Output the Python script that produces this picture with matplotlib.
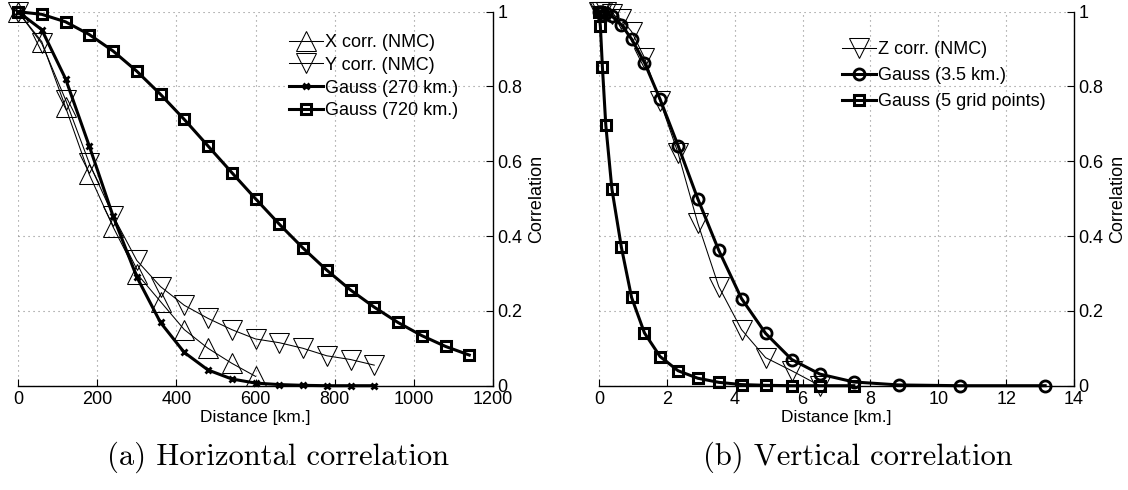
# -*- coding: utf-8 -*-
"""
Horizontal and vertical correlation of the NMC background errors,
compared with Gaussian correlation functions.
"""

import matplotlib
matplotlib.use('Agg')
import matplotlib.pyplot as plt

plt.rcParams['font.family'] = ['Liberation Sans', 'DejaVu Sans']

# Horizontal correlation (panel a)
dist_h = [0, 60, 120, 180, 240, 300, 360, 420, 480, 540, 600, 660, 720,
          780, 840, 900, 960, 1020, 1080, 1140]
x_corr = [1.0, 0.92, 0.745, 0.565, 0.425, 0.30, 0.225, 0.15, 0.10, 0.06,
          0.025]
y_corr = [1.0, 0.915, 0.765, 0.595, 0.455, 0.335, 0.265, 0.215, 0.18, 0.15,
          0.125, 0.115, 0.10, 0.08, 0.07, 0.055]
gauss_270 = [1.0, 0.952, 0.821, 0.641, 0.454, 0.291, 0.169, 0.089, 0.042,
             0.018, 0.007, 0.003, 0.001, 0.0, 0.0, 0.0]
gauss_720 = [1.0, 0.993, 0.973, 0.939, 0.895, 0.841, 0.779, 0.712, 0.641,
             0.570, 0.500, 0.432, 0.368, 0.309, 0.256, 0.210, 0.169, 0.134,
             0.105, 0.082]

# Vertical correlation (panel b), model levels in km
dist_v = [0, 0.04, 0.1, 0.2, 0.38, 0.66, 0.96, 1.34, 1.8, 2.33, 2.91, 3.53,
          4.2, 4.91, 5.68, 6.51, 7.51, 8.83, 10.64, 13.15]
z_corr = [1.0, 1.0, 1.0, 0.998, 0.993, 0.98, 0.947, 0.877, 0.76, 0.622,
          0.435, 0.265, 0.15, 0.075, 0.04, 0.0]
gauss_35 = [1.0, 1.0, 0.999, 0.997, 0.988, 0.965, 0.927, 0.864, 0.766,
            0.642, 0.50, 0.362, 0.233, 0.14, 0.07, 0.031, 0.01, 0.002, 0.0,
            0.0]
gauss_5gp = [1.0, 0.962, 0.853, 0.697, 0.526, 0.37, 0.236, 0.141, 0.078,
             0.04, 0.02, 0.009, 0.003, 0.001, 0.0, 0.0, 0.0]

yticks = [0, 0.2, 0.4, 0.6, 0.8, 1]
ytick_labels = ['0', '0.2', '0.4', '0.6', '0.8', '1']

fig = plt.figure(figsize=(11.28, 4.9), dpi=100)
W, H = 1128.0, 490.0
ax1 = fig.add_axes([18 / W, 1 - 385.7 / H, 475 / W, 374 / H])
ax2 = fig.add_axes([599 / W, 1 - 385.7 / H, 475 / W, 374 / H])


def style_axes(ax, xmax, xstep):
    ax.set_xlim(0, xmax)
    ax.set_ylim(0, 1)
    ax.set_xticks(list(range(0, xmax + 1, xstep)))
    ax.set_yticks(yticks)
    ax.set_yticklabels(ytick_labels)
    ax.spines['left'].set_visible(False)
    ax.spines['top'].set_visible(False)
    ax.spines['bottom'].set_linewidth(1.0)
    ax.spines['right'].set_linewidth(1.0)
    ax.yaxis.tick_right()
    ax.yaxis.set_label_position('right')
    ax.tick_params(direction='in', length=5, width=0.8, labelsize=13,
                   top=False, left=False, right=True)
    ax.tick_params(axis='x', pad=4)
    ax.tick_params(axis='y', pad=3)
    ax.grid(True, linestyle=(0, (1, 3.5)), color='#8a8a8a', linewidth=0.8)
    ax.set_axisbelow(True)
    ax.set_xlabel('Distance [km.]', fontsize=12.5, labelpad=1)
    ax.set_ylabel('Correlation', fontsize=13, labelpad=4)


# (a) horizontal
style_axes(ax1, 1200, 200)
ax1.plot(dist_h[:len(x_corr)], x_corr, color='black', lw=0.75, marker='^',
         ms=15, mfc='none', mew=0.75, clip_on=False, label='X corr. (NMC)')
ax1.plot(dist_h[:len(y_corr)], y_corr, color='black', lw=0.75, marker='v',
         ms=15, mfc='none', mew=0.75, clip_on=False, label='Y corr. (NMC)')
ax1.plot(dist_h[:len(gauss_270)], gauss_270, color='black', lw=2.2,
         marker='x', ms=5, mew=2, clip_on=False, label='Gauss (270 km.)')
ax1.plot(dist_h[:len(gauss_720)], gauss_720, color='black', lw=2.2,
         marker='s', ms=7, mfc='none', mew=2.2, clip_on=False,
         label='Gauss (720 km.)')
ax1.legend(loc='upper left', bbox_to_anchor=((289 - 18) / 475, (385.7 - 34) / 374),
           frameon=False, fontsize=13, handlelength=1.9, handletextpad=0.1,
           borderpad=0, borderaxespad=0, labelspacing=0.32)

# (b) vertical
style_axes(ax2, 14, 2)
ax2.plot(dist_v[:len(z_corr)], z_corr, color='black', lw=0.75, marker='v',
         ms=15, mfc='none', mew=0.75, clip_on=False, label='Z corr. (NMC)')
ax2.plot(dist_v[:len(gauss_35)], gauss_35, color='black', lw=2.2,
         marker='o', ms=8, mfc='none', mew=2, clip_on=False,
         label='Gauss (3.5 km.)')
ax2.plot(dist_v[:len(gauss_5gp)], gauss_5gp, color='black', lw=2.2,
         marker='s', ms=7, mfc='none', mew=2.2, clip_on=False,
         label='Gauss (5 grid points)')
ax2.legend(loc='upper left', bbox_to_anchor=((842 - 599) / 475, (385.7 - 41) / 374),
           frameon=False, fontsize=13, handlelength=1.9, handletextpad=0.1,
           borderpad=0, borderaxespad=0, labelspacing=0.5)

# Captions
fig.text(278 / W, 1 - 457 / H, '(a) Horizontal correlation', family='cmr10',
         fontsize=22, ha='center', va='center')
fig.text(858 / W, 1 - 457 / H, '(b) Vertical correlation', family='cmr10',
         fontsize=22, ha='center', va='center')

fig.savefig('out.png', dpi=100)
